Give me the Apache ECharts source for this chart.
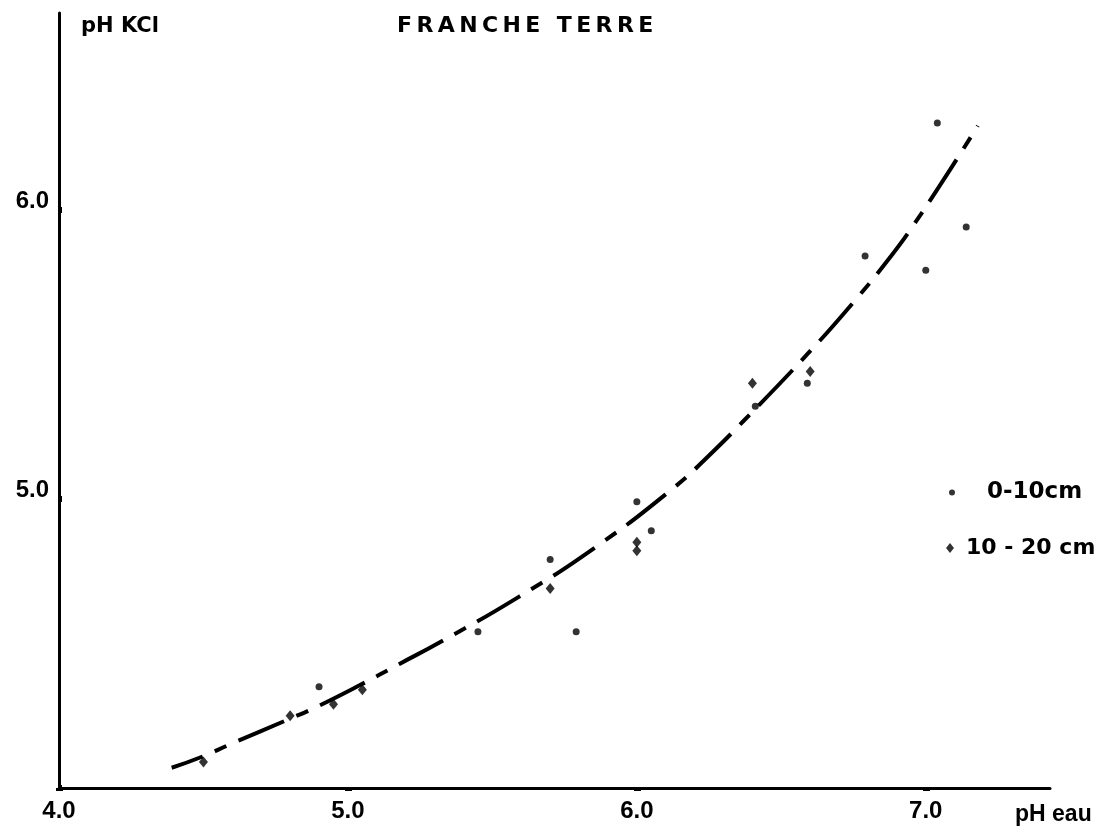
<!DOCTYPE html>
<html>
<head>
<meta charset="utf-8">
<title>FRANCHE TERRE</title>
<script src="https://cdn.jsdelivr.net/npm/echarts@6/dist/echarts.min.js"></script>
<style>
  html, body { margin: 0; padding: 0; background: #ffffff; }
  #chart { width: 1107px; height: 835px; }
</style>
</head>
<body>
<div id="chart"></div>
<script>
// pH KCl versus pH eau, "franche terre" soil, two sampling depths
const chartTitle = 'FRANCHE TERRE';
const xAxisName = 'pH eau';
const yAxisName = 'pH KCl';
const seriesNames = ['0-10cm', '10 - 20 cm'];

// [pH eau, pH KCl] for the 0-10 cm samples
const surfacePoints = [
  [4.90, 4.35], [5.45, 4.54], [5.79, 4.54], [5.70, 4.79],
  [6.00, 4.99], [6.05, 4.89], [6.41, 5.32], [6.59, 5.40],
  [6.79, 5.84], [7.00, 5.79], [7.04, 6.30], [7.14, 5.94]
];

// [pH eau, pH KCl] for the 10-20 cm samples
const deeperPoints = [
  [4.50, 4.09], [4.80, 4.25], [4.95, 4.29], [5.05, 4.34],
  [5.70, 4.69], [6.00, 4.85], [6.00, 4.82], [6.40, 5.40],
  [6.60, 5.44]
];

// fitted curve, traced as [pH eau, pH KCl]
const fittedCurve = [
  [4.39, 4.07], [4.50, 4.11], [4.59, 4.15], [4.80, 4.24],
  [4.88, 4.275], [5.04, 4.355], [5.18, 4.43], [5.32, 4.505],
  [5.59, 4.66], [5.86, 4.835], [6.13, 5.04], [6.25, 5.15],
  [6.37, 5.27], [6.59, 5.50], [6.75, 5.68], [6.88, 5.84],
  [6.96, 5.95], [7.04, 6.07], [7.13, 6.21], [7.18, 6.29]
];

// axis ticks and labels
const xTickValues = [4.0, 5.0, 6.0, 7.0];
const xHalfTickValues = [4.5, 5.5, 6.5];
const yTickValues = [4.0, 5.0, 6.0];
const yLabelValues = [5.0, 6.0];

const ink = '#000000';
const digitFont = 'Liberation Sans';
const letterFont = 'DejaVu Sans';
const spaced = s => s.split('').join('\u2009');

const chart = echarts.init(document.getElementById('chart'), null, { renderer: 'canvas' });

chart.setOption({
  backgroundColor: '#ffffff',
  animation: false,
  title: {
    text: spaced(chartTitle),
    left: 397,
    top: 15,
    padding: 0,
    textStyle: { fontFamily: letterFont, fontWeight: 'bold', fontSize: 22, color: ink }
  },
  legend: [
    {
      data: [{ name: seriesNames[0], icon: 'circle' }],
      left: 949,
      top: 481,
      padding: 0,
      itemWidth: 6,
      itemHeight: 6,
      selectedMode: false,
      textStyle: { fontFamily: letterFont, fontWeight: 'bold', fontSize: 23, color: ink, padding: [0, 0, 0, 27] }
    },
    {
      data: [{ name: seriesNames[1], icon: 'diamond' }],
      left: 946,
      top: 537,
      padding: 0,
      itemWidth: 8,
      itemHeight: 10,
      selectedMode: false,
      textStyle: { fontFamily: letterFont, fontWeight: 'bold', fontSize: 22, color: ink, padding: [0, 0, 0, 7] }
    }
  ],
  grid: { left: 59, right: 57, top: 13, bottom: 47, containLabel: false },
  xAxis: [
    {
      type: 'value',
      min: 4,
      max: 7.43,
      interval: 1,
      name: xAxisName,
      nameLocation: 'end',
      nameGap: -35,
      nameTextStyle: {
        fontFamily: digitFont, fontWeight: 'bold', fontSize: 23, color: ink,
        align: 'left', verticalAlign: 'top', padding: [15, 0, 0, 0]
      },
      axisLine: { show: true, lineStyle: { color: ink, width: 3 } },
      axisTick: { show: true, customValues: xTickValues, inside: false, length: 3, lineStyle: { color: ink, width: 7 } },
      axisLabel: {
        customValues: xTickValues,
        formatter: v => v.toFixed(1),
        margin: 11,
        fontFamily: digitFont, fontWeight: 'bold', fontSize: 24, color: ink
      },
      splitLine: { show: false }
    },
    {
      type: 'value',
      position: 'bottom',
      min: 4,
      max: 7.43,
      interval: 1,
      axisLine: { show: false },
      axisTick: { show: true, customValues: xHalfTickValues, inside: false, length: 2, lineStyle: { color: ink, width: 4 } },
      axisLabel: { show: false },
      splitLine: { show: false }
    }
  ],
  yAxis: {
    type: 'value',
    min: 4,
    max: 6.68,
    interval: 1,
    name: yAxisName,
    nameLocation: 'end',
    nameGap: -3,
    nameTextStyle: {
      fontFamily: letterFont, fontWeight: 'bold', fontSize: 21, color: ink,
      align: 'left', verticalAlign: 'top', padding: [0, 0, 0, 22]
    },
    axisLine: { show: true, lineStyle: { color: ink, width: 3 } },
    axisTick: { show: true, customValues: yTickValues, inside: true, length: 3, lineStyle: { color: ink, width: 6 } },
    axisLabel: {
      customValues: yLabelValues,
      formatter: v => v.toFixed(1),
      margin: 10,
      verticalAlign: 'bottom',
      lineHeight: 16,
      fontFamily: digitFont, fontWeight: 'bold', fontSize: 24, color: ink
    },
    splitLine: { show: false }
  },
  series: [
    {
      name: 'fit',
      type: 'line',
      data: fittedCurve,
      smooth: 0.5,
      showSymbol: false,
      symbol: 'none',
      silent: true,
      lineStyle: { color: ink, width: 4, type: [50, 13, 13, 13], dashOffset: 17, cap: 'butt' },
      z: 2
    },
    {
      name: seriesNames[0],
      type: 'scatter',
      data: surfacePoints,
      symbol: 'circle',
      symbolSize: 7,
      itemStyle: { color: ink },
      z: 3
    },
    {
      name: seriesNames[1],
      type: 'scatter',
      data: deeperPoints,
      symbol: 'diamond',
      symbolSize: [9, 11],
      itemStyle: { color: ink },
      z: 3
    }
  ]
});
</script>
</body>
</html>
